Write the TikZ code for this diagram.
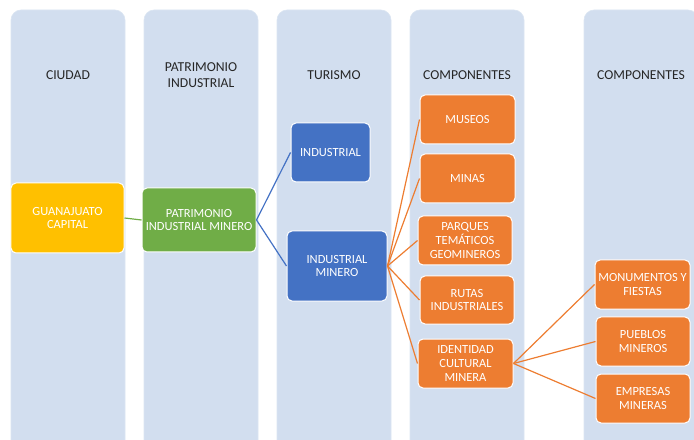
\documentclass[tikz,border=0pt]{standalone}
\usepackage{fontspec}
\setmainfont{Carlito}
\definecolor{colbg}{HTML}{D2DEEF}
\definecolor{cyel}{HTML}{FFC000}
\definecolor{cgrn}{HTML}{70AD47}
\definecolor{cblu}{HTML}{4472C4}
\definecolor{corg}{HTML}{ED7D31}
\definecolor{ctxt}{HTML}{262626}
\tikzset{
  colbox/.style={fill=colbg, draw=colbg!80!white, line width=0.6bp, rounded corners=10bp},
  head/.style={text=ctxt, align=center, font=\fontsize{13.7}{15.5}\selectfont, inner sep=0pt},
  box/.style={draw=white, line width=1bp, rounded corners=5bp, text=white, align=center,
              font=\fontsize{12.5}{14}\selectfont, inner sep=1bp},
  link/.style={line width=1.2bp}
}
\begin{document}
\begin{tikzpicture}[x=1bp,y=-1bp]
\useasboundingbox (0,0) rectangle (694,440);
\clip (0,0) rectangle (694,440);
% columns
\foreach \xa in {11,144,277,410,584}{
  \path[colbox] (\xa,10) rectangle ++(114,450);
}
% headers
\node[head] (h1) at (68,75) {CIUDAD};
\node[head] (h2) at (201,75) {PATRIMONIO\\INDUSTRIAL};
\node[head] (h3) at (334,75) {TURISMO};
\node[head] (h4) at (467,75) {COMPONENTES};
\node[head] (h5) at (641,75) {COMPONENTES};
% nodes
\node[box, fill=cyel, minimum width=113bp, minimum height=70bp] (guan) at (67.5,218) {GUANAJUATO\\CAPITAL};
\node[box, fill=cgrn, minimum width=114bp, minimum height=64bp] (pim) at (199,220) {PATRIMONIO\\INDUSTRIAL MINERO};
\node[box, fill=cblu, minimum width=79bp, minimum height=59bp] (ind) at (330.5,152.5) {INDUSTRIAL};
\node[box, fill=cblu, minimum width=100bp, minimum height=70bp] (indm) at (337,266) {INDUSTRIAL\\MINERO};
\node[box, fill=corg, minimum width=95bp, minimum height=49bp] (mus) at (467.5,119.5) {MUSEOS};
\node[box, fill=corg, minimum width=95bp, minimum height=49bp] (min) at (467.5,178.5) {MINAS};
\node[box, fill=corg, minimum width=94bp, minimum height=49bp] (par) at (465,240.5) {PARQUES\\TEMÁTICOS\\GEOMINEROS};
\node[box, fill=corg, minimum width=94bp, minimum height=48bp] (rut) at (467,300) {RUTAS\\INDUSTRIALES};
\node[box, fill=corg, minimum width=95bp, minimum height=49bp] (ide) at (465.5,363.5) {IDENTIDAD\\CULTURAL\\MINERA};
\node[box, fill=corg, minimum width=95bp, minimum height=49bp] (mon) at (642.5,284.5) {MONUMENTOS Y\\FIESTAS};
\node[box, fill=corg, minimum width=94bp, minimum height=49bp] (pue) at (643,341.5) {PUEBLOS\\MINEROS};
\node[box, fill=corg, minimum width=94bp, minimum height=49bp] (emp) at (643,398.5) {EMPRESAS\\MINERAS};
% links
\draw[link, cgrn] (guan.east) -- (pim.west);
\draw[link, cblu] (pim.east) -- (ind.west);
\draw[link, cblu] (pim.east) -- (indm.west);
\foreach \t in {mus,min,par,rut,ide}{
  \draw[link, corg] (indm.east) -- (\t.west);
}
\foreach \t in {mon,pue,emp}{
  \draw[link, corg] (ide.east) -- (\t.west);
}
\end{tikzpicture}
\end{document}
